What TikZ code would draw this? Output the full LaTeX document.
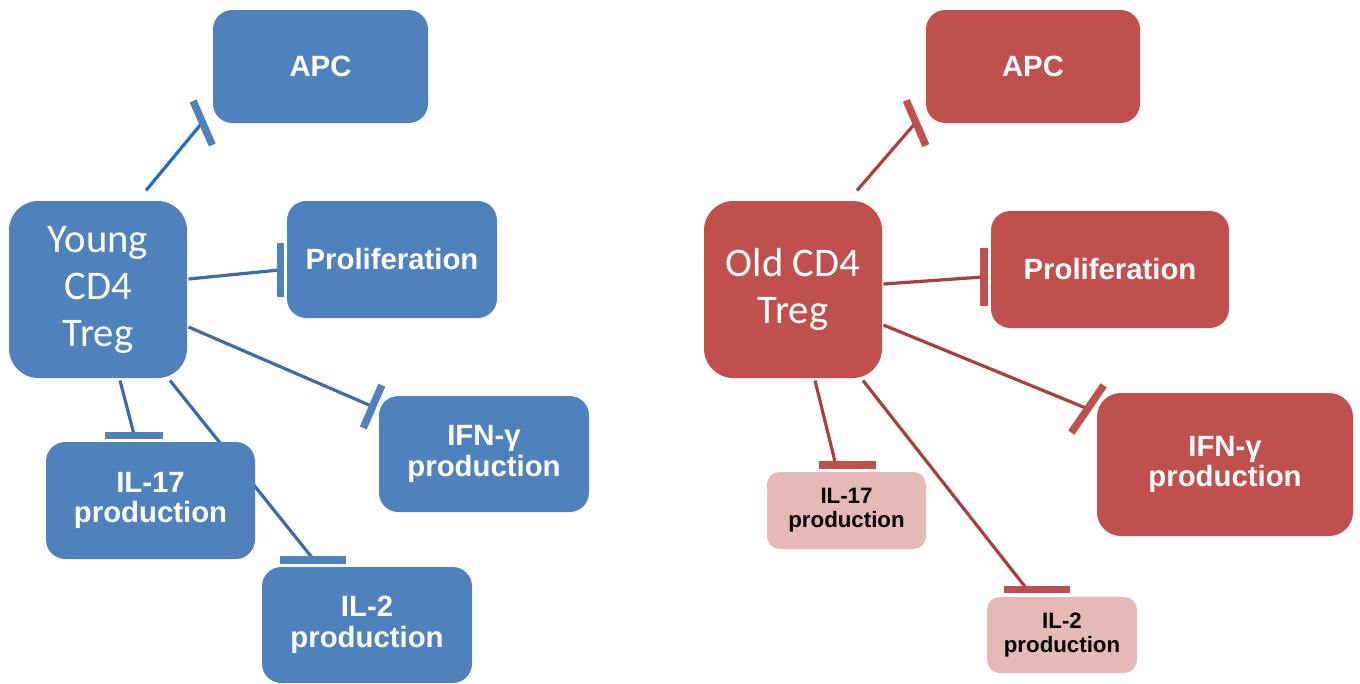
\documentclass[tikz,border=0pt]{standalone}
\usepackage{fontspec}
\setmainfont{Liberation Sans}
\newfontfamily\calibrifont{Carlito}
\usetikzlibrary{arrows.meta,calc,backgrounds}

\definecolor{ybox}{HTML}{4F81BD}
\definecolor{yline}{HTML}{3D6CA6}
\definecolor{yapcline}{HTML}{1F6EC2}
\definecolor{obox}{HTML}{C0504D}
\definecolor{oline}{HTML}{A8403D}
\definecolor{opink}{HTML}{E6B9B8}

\tikzset{every picture/.style={line width=0.75pt}}
\tikzset{
  cellbox/.style={rounded corners=14.5pt, inner sep=0pt, align=center, text=white,
    font=\bfseries\fontsize{22}{23}\selectfont},
  tregbox/.style={rounded corners=22pt, inner sep=0pt, align=center, text=white,
    font=\calibrifont\fontsize{30.5}{35.25}\selectfont,
    minimum width=133.5pt, minimum height=132.75pt},
  pinkbox/.style={rounded corners=9.5pt, inner sep=0pt, align=center, fill=opink,
    text=black, font=\bfseries\fontsize{16.7}{18.2}\selectfont},
  blockY/.style={draw=yline, line width=2.4pt, line join=round, -{Bar[width=#1 0, line width=5.6pt 0, color=ybox]}},
  blockO/.style={draw=oline, line width=2.4pt, line join=round, -{Bar[width=#1 0, line width=5.6pt 0, color=obox]}},
}

\begin{document}
\begin{tikzpicture}[x=0.75pt,y=0.75pt,yscale=-1,xscale=1]
        \useasboundingbox (0,0) rectangle (1360,683);

        %Rounded Rect: young side
        \node[tregbox, fill=ybox] (young) at (98,289.5) {Young\\CD4\\Treg};
        \node[cellbox, fill=ybox, minimum width=161.25pt, minimum height=84.75pt] (apcY) at (320.5,66.5) {APC};
        \node[cellbox, fill=ybox, minimum width=157.5pt, minimum height=87.75pt] (prolY) at (392,259.5) {Proliferation};
        \node[cellbox, fill=ybox, minimum width=157.5pt, minimum height=87pt] (ifnY) at (484,454) {IFN-γ\\production};
        \node[cellbox, fill=ybox, minimum width=156.75pt, minimum height=87.75pt] (il17Y) at (150.5,500.5) {IL-17\\production};
        \node[cellbox, fill=ybox, minimum width=157.5pt, minimum height=87pt] (il2Y) at (367,625) {IL-2\\production};

        %Rounded Rect: old side
        \node[tregbox, fill=obox] (old) at (793,289.5) {Old CD4\\Treg};
        \node[cellbox, fill=obox, minimum width=160.5pt, minimum height=84.75pt] (apcO) at (1033,66.5) {APC};
        \node[cellbox, fill=obox, minimum width=178.5pt, minimum height=87.75pt] (prolO) at (1110,269.5) {Proliferation};
        \node[cellbox, fill=obox, rounded corners=17.9pt, minimum width=192pt, minimum height=107.25pt] (ifnO) at (1225,464.5) {IFN-γ\\production};
        \node[pinkbox, minimum width=119.25pt, minimum height=57.75pt] (il17O) at (846.5,510.5) {IL-17\\production};
        \node[pinkbox, minimum width=112.5pt, minimum height=57pt] (il2O) at (1062,635) {IL-2\\production};

        \begin{pgfonlayer}{background}
        %Straight Lines: young side (last short piece sets the bar angle)
        \draw[blockY=36pt, draw=yapcline] ($(young.north)+(48,-10)$) -- ($(apcY.south west)+(-11,0)$) -- ++(4.6,-2);
        \draw[blockY=41pt] ($(young.east)+(1,-10.5)$) -- ($(prolY.west)+(-7.25,10.5)$) -- ++(5,0);
        \draw[blockY=35pt] ($(young.east)+(1,37.5)$) -- ($(ifnY.north west)+(-7.1,10.5)$) -- ++(4.6,2);
        \draw[blockY=43pt] ($(young.south)+(22,2)$) -- ($(il17Y.north)+(-16.5,-7.25)$) -- ++(0,5);
        \draw[blockY=49.5pt] ($(young.south)+(72,2)$) -- ($(il2Y.north)+(-54,-7.75)$) -- ++(0,5);

        %Straight Lines: old side
        \draw[blockO=37pt] ($(old.north)+(64,-10)$) -- ($(apcO.south west)+(-10.6,0)$) -- ++(4.6,-2);
        \draw[blockO=43pt] ($(old.east)+(1,-5.5)$) -- ($(prolO.west)+(-7.75,7.5)$) -- ++(5,0);
        \draw[blockO=43pt] ($(old.east)+(1,35.5)$) -- ($(ifnO.north west)+(-10,15.8)$) -- ++(4.1,2.8);
        \draw[blockO=43pt] ($(old.south)+(22,2)$) -- ($(il17O.north)+(-11,-7.75)$) -- ($(il17O.north)+(1,-7.75)$) -- ++(0,5);
        \draw[blockO=49.5pt] ($(old.south)+(70,2)$) -- ($(il2O.north)+(-35.7,-8.25)$) -- ($(il2O.north)+(-25,-8.25)$) -- ++(0,5);
        \end{pgfonlayer}

\end{tikzpicture}
\end{document}
